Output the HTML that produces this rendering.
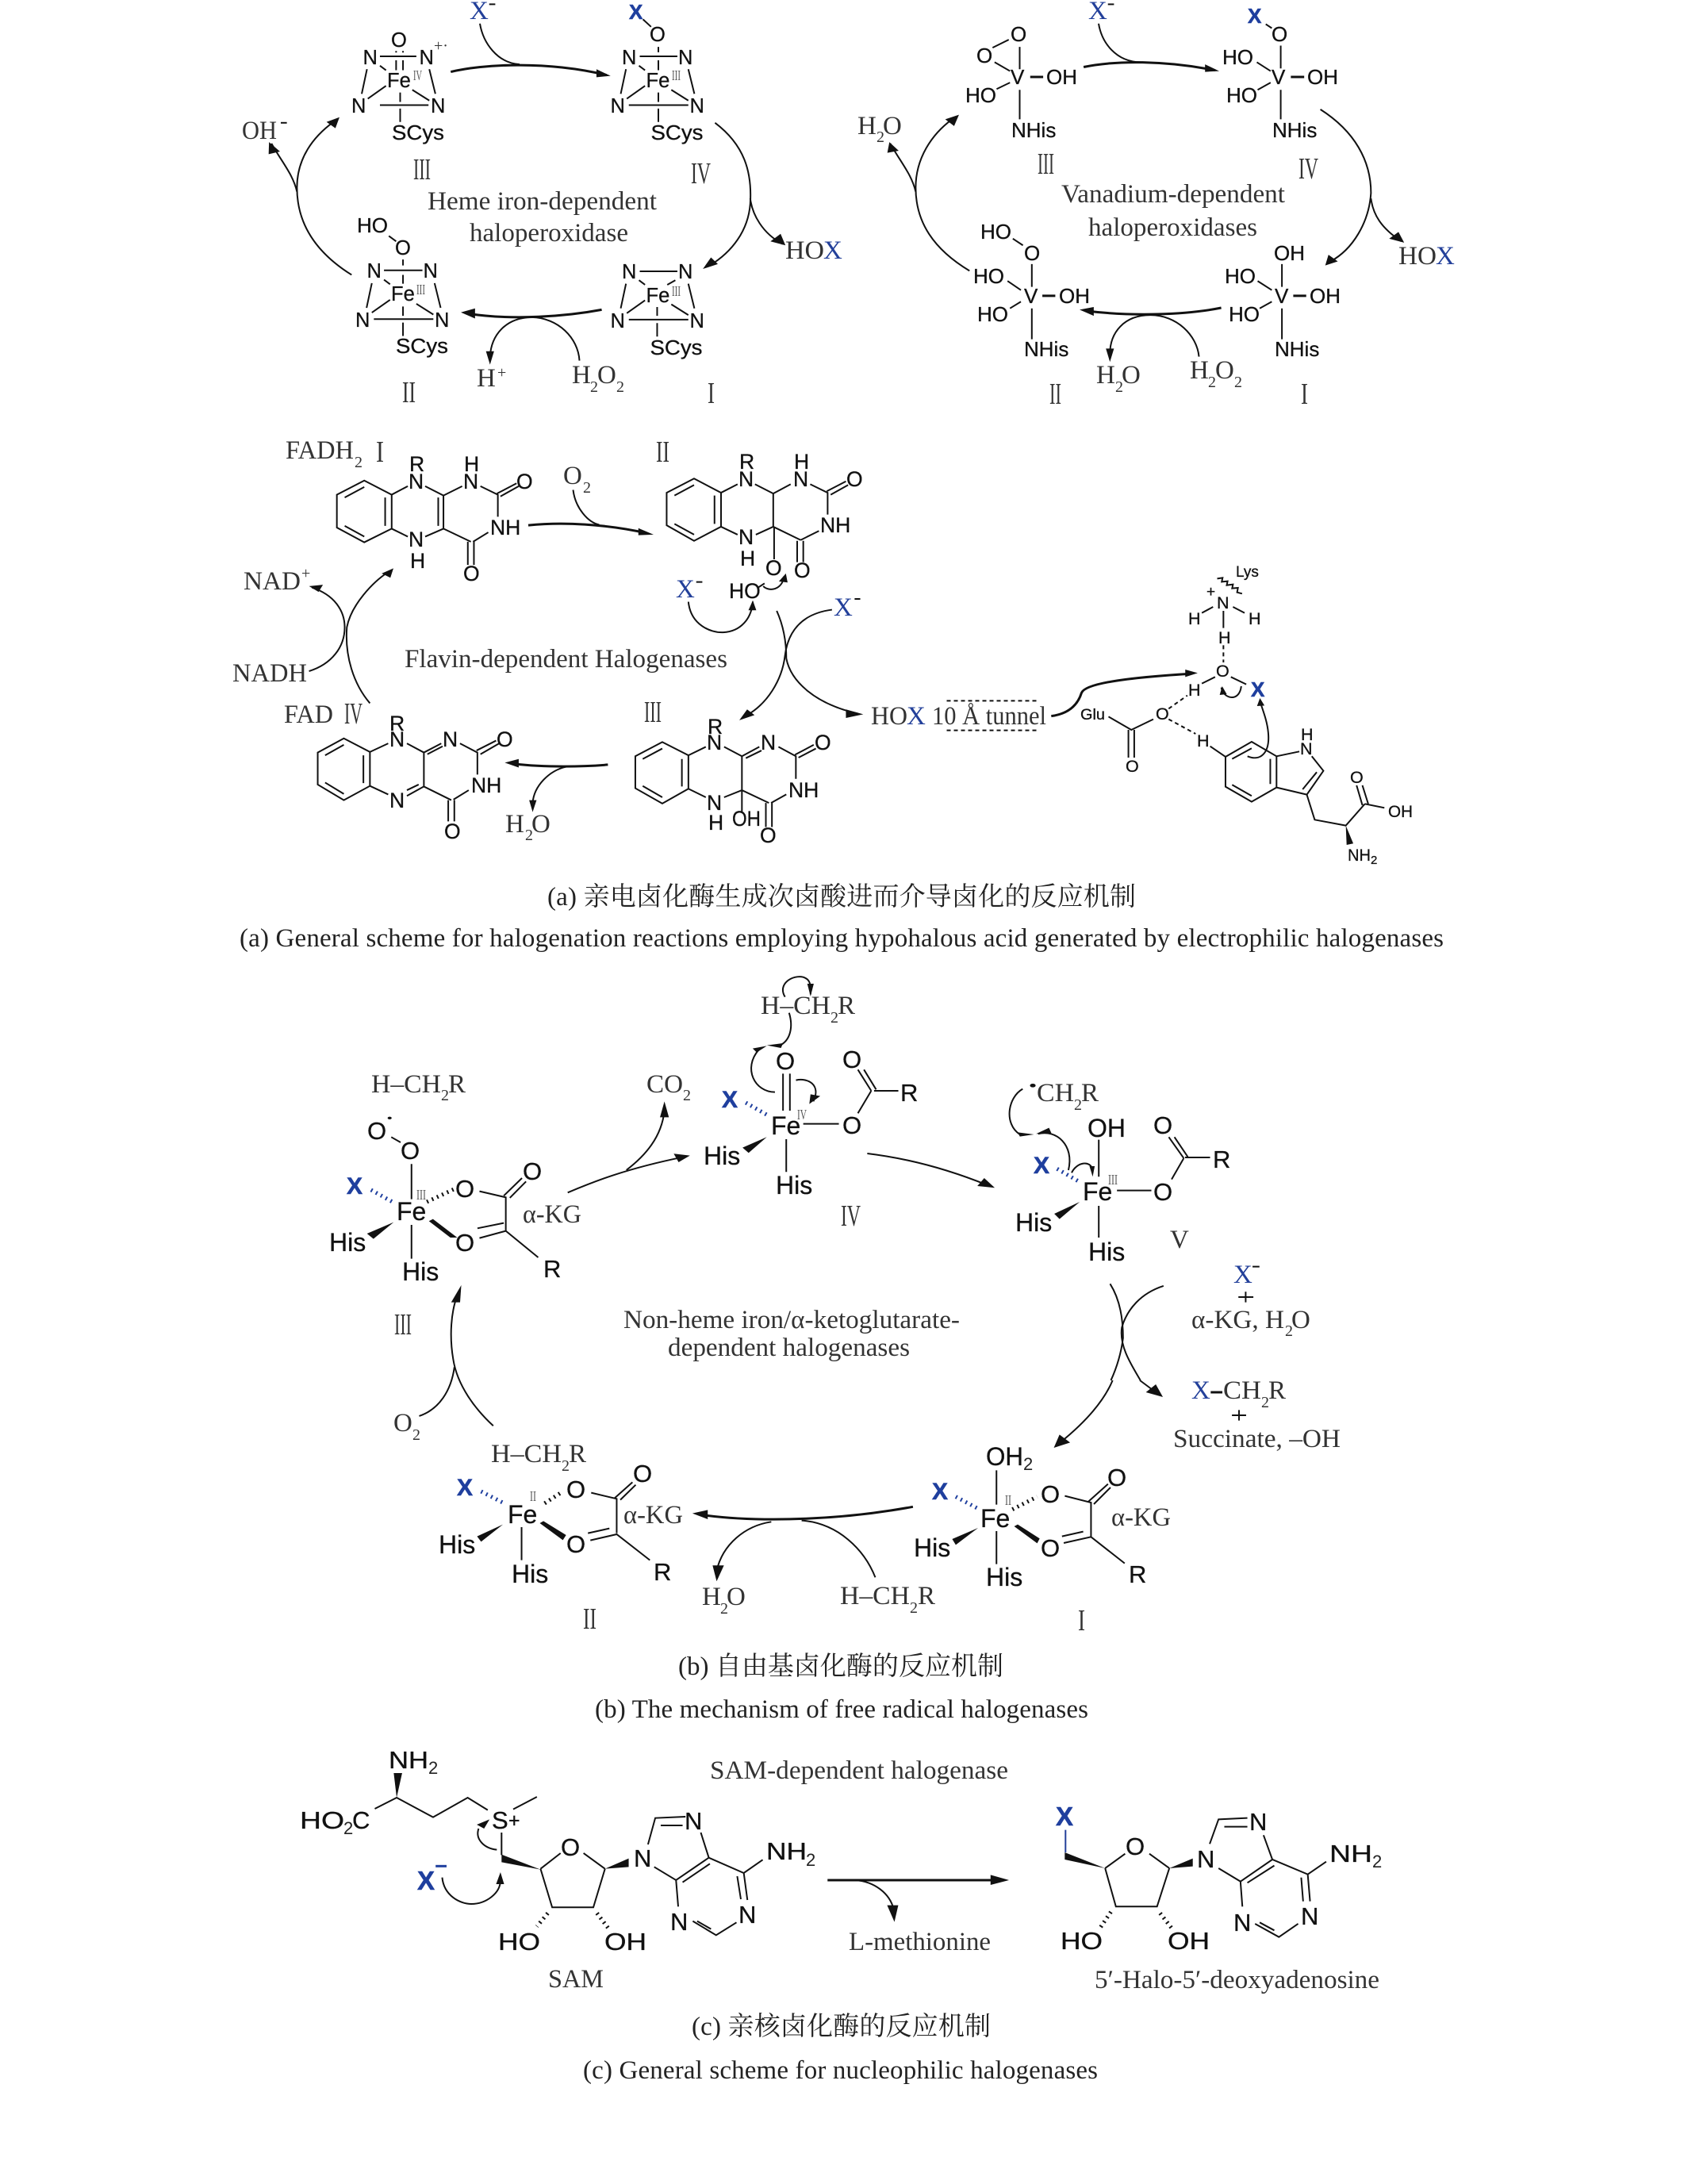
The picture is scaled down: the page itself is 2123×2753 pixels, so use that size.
<!DOCTYPE html>
<html><head><meta charset="utf-8"><style>
html,body{margin:0;padding:0;background:#fff}
svg{display:block}
text{white-space:pre}
.s{font-family:"Liberation Sans",sans-serif;font-size:25.5px;fill:#111;stroke:#111;stroke-width:.3px}
.s2{font-size:26px}.s3{font-size:32px}.s4{font-size:31px}.s5{font-size:21.5px}.s6{font-size:19px}.s7{font-size:26.5px}
.t{font-family:"Liberation Serif",serif;font-size:33px;fill:#333}
.k{font-family:"Liberation Serif",serif;font-size:20px;fill:#333}
.kk{font-family:"Liberation Sans",sans-serif;font-size:22px;fill:#222}
.x{font-family:"Liberation Serif",serif;font-size:33px;fill:#23409a}
.b{font-family:"Liberation Sans",sans-serif;font-weight:bold;font-size:26px;fill:#1f3f9e;stroke:#1f3f9e;stroke-width:.6px}
.b2{font-size:30px}.b3{font-size:33px}
.r{font-family:"Liberation Serif",serif;font-size:38px;fill:#333}
.u{font-family:"Liberation Serif",serif;font-size:18px;fill:#555}
.c{font-family:"Liberation Serif","Noto Serif CJK SC",serif;font-size:33px;fill:#222}
path,line{fill:none;stroke:#111;stroke-width:2;vector-effect:non-scaling-stroke}
path.m{stroke-width:3}
path.d{stroke-dasharray:5 4}
path.bl{stroke:#23409a}
path.h{stroke-width:5;stroke-dasharray:2 5;stroke:#111}
path.hb{stroke-width:5;stroke-dasharray:2 5;stroke:#1f3f9e}
polygon{fill:#111;stroke:none}
</style></head><body>
<svg xmlns="http://www.w3.org/2000/svg" width="2123" height="2753" viewBox="0 0 2123 2753">
<rect width="2123" height="2753" fill="#fff"/>

<!-- PANEL 1 shapes -->
<g transform="translate(280,0) scale(.5102,.338)">
<path d="M390,210H480M390,392H510M358,258L345,350M512,258L527,350M405,320L360,368M470,335L512,375M390,245L405,262M440,345V380M440,405V455"/>
<path d="M430,190V196M447,190V196M430,225V262M447,225V262"/>
<path d="M1032,210H1125M1005,392H1152M998,258L985,350M1152,258L1167,350M1045,320L1000,368M1110,335L1152,375M1030,245L1045,262M1078,175V195M1078,225V262M1078,345V380M1078,405V455M1040,72L1060,100M660,16H675"/>
<path d="M400,1008H495M375,1190H522M370,1056L357,1148M525,1056L540,1148M415,1118L370,1166M480,1133L522,1173M400,1043L415,1060M447,968V990M447,1025V1058M447,1143V1178M447,1203V1253M412,880L430,900"/>
<path d="M1032,1012H1125M1005,1192H1152M998,1058L985,1150M1152,1058L1167,1150M1045,1120L1000,1168M1110,1135L1152,1175M1030,1045L1045,1062M1120,1045L1100,1062M1075,1145V1178M1075,1205V1255"/>
<path d="M145,458H160"/>
<path d="M637,88C645,160 680,235 735,240"/>
<path class="m" d="M565,268C640,240 800,225 950,280"/>
<polygon points="960,283 925,258 925,288"/>
<path d="M1218,458C1290,540 1310,640 1305,760C1300,860 1260,940 1205,990"/>
<polygon points="1188,1003 1208,960 1225,985"/>
<path d="M1305,740C1310,800 1335,870 1385,910"/>
<polygon points="1392,915 1355,900 1380,872"/>
<path class="m" d="M938,1155C850,1180 720,1195 610,1170"/>
<polygon points="590,1165 625,1150 625,1188"/>
<path d="M883,1345C880,1260 830,1185 765,1183C700,1185 665,1250 662,1330"/>
<polygon points="662,1360 652,1310 672,1310"/>
<path d="M320,1025C230,940 185,830 185,700C185,590 225,510 275,455"/>
<polygon points="290,437 258,455 280,478"/>
<path d="M185,715C175,650 150,610 122,535"/>
<polygon points="116,530 115,575 143,565"/>
</g>
<!-- PANEL 1 text -->
<text class="x" x="592" y="24">X</text><text class="b" x="793" y="24">X</text>
<text class="s" x="819" y="52">O</text>
<text class="s" x="493" y="59">O</text><text class="s" x="457.5" y="81">N</text><text class="s" x="528.5" y="81">N</text><text class="k" x="547" y="64" font-size="18">+·</text>
<text class="s" x="488" y="110">Fe</text><text class="u" x="521" y="101" textLength="11" lengthAdjust="spacingAndGlyphs">IV</text>
<text class="s" x="443" y="142">N</text><text class="s" x="543" y="142">N</text><text class="s" x="494" y="176" textLength="66" lengthAdjust="spacingAndGlyphs">SCys</text>
<text class="s" x="784" y="81">N</text><text class="s" x="855" y="81">N</text><text class="s" x="814.5" y="110">Fe</text><text class="u" x="847" y="101" textLength="11" lengthAdjust="spacingAndGlyphs">III</text>
<text class="s" x="769.5" y="142">N</text><text class="s" x="869.5" y="142">N</text><text class="s" x="820.5" y="176" textLength="66" lengthAdjust="spacingAndGlyphs">SCys</text>
<text class="s" x="450" y="293" textLength="39" lengthAdjust="spacingAndGlyphs">HO</text><text class="s" x="498" y="321">O</text>
<text class="s" x="462.5" y="350">N</text><text class="s" x="533.5" y="350">N</text><text class="s" x="493" y="379">Fe</text><text class="u" x="525" y="371" textLength="11" lengthAdjust="spacingAndGlyphs">III</text>
<text class="s" x="448" y="412">N</text><text class="s" x="548" y="412">N</text><text class="s" x="499" y="445" textLength="66" lengthAdjust="spacingAndGlyphs">SCys</text>
<text class="s" x="784" y="351">N</text><text class="s" x="855" y="351">N</text><text class="s" x="814.5" y="381">Fe</text><text class="u" x="847" y="373" textLength="11" lengthAdjust="spacingAndGlyphs">III</text>
<text class="s" x="769.5" y="413">N</text><text class="s" x="869.5" y="413">N</text><text class="s" x="819.5" y="447" textLength="66" lengthAdjust="spacingAndGlyphs">SCys</text>
<text class="r" x="521" y="226" textLength="22" lengthAdjust="spacingAndGlyphs">III</text><text class="r" x="871" y="231" textLength="25" lengthAdjust="spacingAndGlyphs">IV</text>
<text class="r" x="507" y="507" textLength="17" lengthAdjust="spacingAndGlyphs">II</text><text class="r" x="892" y="508" textLength="9" lengthAdjust="spacingAndGlyphs">I</text>
<text class="t" x="305" y="175" textLength="44" lengthAdjust="spacingAndGlyphs">OH</text>
<text class="t" x="539" y="264" textLength="289" lengthAdjust="spacingAndGlyphs">Heme iron-dependent</text>
<text class="t" x="592" y="304" textLength="200" lengthAdjust="spacingAndGlyphs">haloperoxidase</text>
<text class="t" x="990" y="326" textLength="49" lengthAdjust="spacingAndGlyphs">HO</text><text class="x" x="1038" y="326">X</text>
<text class="t" x="601" y="487">H</text><text class="k" x="627" y="476">+</text>
<text class="t" x="721" y="483">H</text><text class="k" x="744" y="494">2</text><text class="t" x="753" y="483">O</text><text class="k" x="777" y="494">2</text>

<!-- PANEL 2 shapes -->
<g transform="translate(1060,0) scale(.5102,.338)">
<path d="M375,178L415,148M442,175V258M380,232L418,265M418,308L385,332M442,335V445"/>
<path class="m" d="M468,287H500"/>
<path d="M1050,90L1065,105M1087,170V255M1028,232L1062,265M1062,308L1030,335M1087,335V445"/>
<path class="m" d="M1112,287H1145"/>
<path d="M425,890L450,915M472,985V1070M412,1048L445,1082M445,1125L418,1150M472,1150V1265"/>
<path class="m" d="M498,1103H530"/>
<path d="M1090,985V1070M1030,1048L1065,1082M1065,1125L1035,1150M1090,1150V1265"/>
<path class="m" d="M1118,1103H1150"/>
<path d="M660,16H675"/>
<path d="M637,88C645,160 680,230 740,232"/>
<path class="m" d="M600,250C680,225 800,225 925,262"/>
<polygon points="935,265 900,240 900,268"/>
<path d="M1185,408C1270,490 1310,600 1310,720C1305,830 1265,930 1210,975"/>
<polygon points="1197,990 1205,950 1228,975"/>
<path d="M1310,740C1315,800 1335,850 1385,900"/>
<polygon points="1392,905 1355,890 1378,865"/>
<path class="m" d="M940,1148C850,1175 720,1180 610,1160"/>
<polygon points="590,1155 625,1145 625,1178"/>
<path d="M885,1330C880,1250 830,1175 765,1175C700,1175 665,1240 665,1320"/>
<polygon points="665,1350 655,1300 675,1300"/>
<path d="M318,1010C230,930 185,830 185,700C185,590 225,500 275,445"/>
<polygon points="292,428 258,445 280,470"/>
<path d="M185,715C175,650 150,610 122,535"/>
<polygon points="120,530 115,570 143,562"/>
</g>
<!-- PANEL 2 text -->
<text class="x" x="1372" y="24">X</text><text class="b" x="1573" y="29">X</text><text class="s s2" x="1603" y="52">O</text>
<text class="s s2" x="1274" y="52">O</text><text class="s s2" x="1231" y="79">O</text><text class="s s2" x="1274" y="106">V</text><text class="s s2" x="1319" y="106">OH</text><text class="s s2" x="1217" y="129">HO</text><text class="s s2" x="1275" y="173">NHis</text>
<text class="s s2" x="1603" y="106">V</text><text class="s s2" x="1648" y="106">OH</text><text class="s s2" x="1541" y="81">HO</text><text class="s s2" x="1546" y="129">HO</text><text class="s s2" x="1604" y="173">NHis</text>
<text class="r" x="1308" y="219" textLength="21" lengthAdjust="spacingAndGlyphs">III</text><text class="r" x="1637" y="225" textLength="25" lengthAdjust="spacingAndGlyphs">IV</text>
<text class="t" x="1338" y="255" textLength="282" lengthAdjust="spacingAndGlyphs">Vanadium-dependent</text>
<text class="t" x="1372" y="297" textLength="213" lengthAdjust="spacingAndGlyphs">haloperoxidases</text>
<text class="t" x="1081" y="169">H</text><text class="k" x="1105" y="179">2</text><text class="t" x="1113" y="169">O</text>
<text class="s s2" x="1236" y="301">HO</text><text class="s s2" x="1291" y="328">O</text><text class="s s2" x="1227" y="357">HO</text><text class="s s2" x="1291" y="382">V</text><text class="s s2" x="1335" y="382">OH</text><text class="s s2" x="1232" y="405">HO</text><text class="s s2" x="1291" y="449">NHis</text>
<text class="s s2" x="1606" y="328">OH</text><text class="s s2" x="1544" y="357">HO</text><text class="s s2" x="1607" y="382">V</text><text class="s s2" x="1651" y="382">OH</text><text class="s s2" x="1549" y="405">HO</text><text class="s s2" x="1607" y="449">NHis</text>
<text class="t" x="1763" y="333" textLength="48" lengthAdjust="spacingAndGlyphs">HO</text><text class="x" x="1810" y="333">X</text>
<text class="t" x="1382" y="483">H</text><text class="k" x="1406" y="494">2</text><text class="t" x="1414" y="483">O</text>
<text class="t" x="1500" y="477">H</text><text class="k" x="1523" y="488">2</text><text class="t" x="1532" y="477">O</text><text class="k" x="1556" y="488">2</text>
<text class="r" x="1323" y="509" textLength="15" lengthAdjust="spacingAndGlyphs">II</text><text class="r" x="1640" y="509" textLength="9" lengthAdjust="spacingAndGlyphs">I</text>

<!-- PANEL 3 flavin shapes -->
<g transform="translate(270,530) scale(.5485,.35714)">
<path d="M345,212L408,262V382L345,430L282,378V262ZM300,272L345,235M393,272V372M300,372L345,410M408,262L445,232M408,382L445,410M485,232L527,265V382L590,428M515,272V372M527,382L485,410M527,265L570,232M612,232L652,262V340M650,258L695,222M658,268L700,232M630,395L595,428M583,428V510M597,428V510"/>
<path d="M1103,205L1165,255V375L1103,425L1040,370V255ZM1058,265L1103,228M1150,265V365M1058,365L1103,403M1165,255L1203,225M1243,225L1285,258L1325,225M1285,258V375M1370,225L1410,255V332M1408,250L1452,215M1417,262L1457,228M1390,390L1348,422M1285,375L1348,422M1165,375L1203,403M1285,375L1245,403M1340,425V500M1354,425V500M1287,375V490M1250,590L1265,575"/>
<path d="M1262,585C1275,605 1305,600 1310,550"/><polygon points="1314,540 1298,568 1318,572"/>
<path d="M1108,570H1122M1472,630H1485"/>
<path d="M1090,640C1095,720 1140,750 1170,748C1210,745 1235,700 1238,640"/>
<polygon points="1238,635 1228,670 1246,670"/>
<path d="M1420,668C1360,680 1320,730 1312,830C1305,920 1270,1000 1225,1040"/>
<polygon points="1207,1058 1225,1020 1242,1040"/>
<path d="M1293,672C1310,730 1315,790 1315,840C1325,920 1380,1000 1480,1035"/>
<polygon points="1492,1037 1452,1020 1452,1050"/>
<path d="M825,245C830,310 860,360 885,368"/>
<path class="m" d="M722,370C800,358 900,365 995,398"/>
<polygon points="1010,403 975,380 975,405"/>
<path d="M218,885C270,860 300,800 300,730C300,670 275,615 225,590"/>
<polygon points="218,585 250,580 240,605"/>
<path d="M358,998C320,930 300,830 305,730C315,650 365,570 400,535"/>
<polygon points="412,522 385,540 405,555"/>
<path d="M298,1122L358,1170V1290L298,1340L238,1285V1172ZM255,1182L298,1145M343,1182V1280M255,1278L298,1318M358,1170L400,1140M358,1290L400,1320M443,1140L482,1172L522,1140M490,1178L525,1150M482,1172V1292M470,1285L443,1305M482,1292L443,1325M482,1292L545,1340M565,1140L605,1172V1250M603,1165L648,1130M612,1178L655,1140M585,1305L550,1338M538,1340V1415M552,1340V1415"/>
<path d="M1030,1135L1090,1182V1300L1030,1352L968,1298V1185ZM985,1195L1030,1158M1075,1195V1292M985,1290L1030,1330M1090,1182L1130,1152M1090,1300L1130,1330M1172,1152L1213,1185L1253,1152M1222,1192L1258,1165M1213,1185V1305M1297,1152L1337,1185V1265M1335,1180L1378,1145M1343,1190L1383,1158M1315,1320L1280,1350M1213,1305L1275,1350M1172,1330L1213,1305M1213,1305V1380M1268,1350V1435M1282,1350V1435"/>
<path class="m" d="M905,1215C850,1222 760,1225 690,1212"/>
<polygon points="668,1208 700,1195 700,1225"/>
<path d="M810,1222C770,1235 735,1290 732,1350"/>
<polygon points="732,1382 724,1340 741,1340"/>
</g>
<!-- PANEL 3 text -->
<text class="t" x="360" y="578" textLength="86" lengthAdjust="spacingAndGlyphs">FADH</text><text class="k" x="447" y="589">2</text><text class="r" x="474" y="582" textLength="10" lengthAdjust="spacingAndGlyphs">I</text>
<text class="r" x="827" y="582" textLength="17" lengthAdjust="spacingAndGlyphs">II</text>
<text class="s s7" x="516" y="594">R</text><text class="s s7" x="515" y="616">N</text><text class="s s7" x="585" y="594">H</text><text class="s s7" x="584" y="616">N</text><text class="s s7" x="651" y="616">O</text><text class="s s7" x="618" y="674">NH</text><text class="s s7" x="515" y="689">N</text><text class="s s7" x="517" y="716">H</text><text class="s s7" x="584" y="732">O</text>
<text class="s s7" x="932" y="591">R</text><text class="s s7" x="931" y="613">N</text><text class="s s7" x="1001" y="591">H</text><text class="s s7" x="1000" y="613">N</text><text class="s s7" x="1067" y="613">O</text><text class="s s7" x="1034" y="671">NH</text><text class="s s7" x="931" y="686">N</text><text class="s s7" x="933" y="713">H</text><text class="s s7" x="1001" y="728">O</text><text class="s s7" x="965" y="725">O</text><text class="s s7" x="919" y="754">HO</text>
<text class="x" x="852" y="753">X</text><text class="x" x="1051" y="776">X</text>
<text class="t" x="710" y="610">O</text><text class="k" x="735" y="621">2</text>
<text class="t" x="307" y="743" textLength="72" lengthAdjust="spacingAndGlyphs">NAD</text><text class="k" x="380" y="729">+</text>
<text class="t" x="293" y="859" textLength="94" lengthAdjust="spacingAndGlyphs">NADH</text>
<text class="t" x="510" y="841" textLength="407" lengthAdjust="spacingAndGlyphs">Flavin-dependent Halogenases</text>
<text class="t" x="358" y="911" textLength="62" lengthAdjust="spacingAndGlyphs">FAD</text><text class="r" x="434" y="912" textLength="23" lengthAdjust="spacingAndGlyphs">IV</text>
<text class="r" x="812" y="910" textLength="22" lengthAdjust="spacingAndGlyphs">III</text>
<text class="s s7" x="491" y="921">R</text><text class="s s7" x="491" y="941">N</text><text class="s s7" x="558" y="941">N</text><text class="s s7" x="626" y="941">O</text><text class="s s7" x="594" y="999">NH</text><text class="s s7" x="491" y="1018">N</text><text class="s s7" x="560" y="1057">O</text>
<text class="s s7" x="892" y="925">R</text><text class="s s7" x="891" y="945">N</text><text class="s s7" x="959" y="945">N</text><text class="s s7" x="1027" y="945">O</text><text class="s s7" x="994" y="1005">NH</text><text class="s s7" x="891" y="1021">N</text><text class="s s7" x="893" y="1046">H</text><text class="s s7" x="923" y="1041" textLength="36" lengthAdjust="spacingAndGlyphs">OH</text><text class="s s7" x="958" y="1062">O</text>
<text class="t" x="637" y="1049">H</text><text class="k" x="662" y="1059">2</text><text class="t" x="670" y="1049">O</text>

<!-- Tunnel/tryptophan -->
<g transform="translate(1000,690) scale(.523,.3333)">
<path class="d" d="M370,580H590M370,692H590"/>
<path class="m" d="M622,638C660,630 685,600 695,550C705,510 830,490 955,478"/>
<polygon points="975,475 945,462 945,490"/>
<path d="M1022,118L1035,115L1033,130L1047,128L1045,143L1060,140L1058,155L1072,153L1070,170L1082,175"/>
<path d="M1060,225L1088,248M1012,225L985,248M1037,240V305M1017,490L985,515M1055,490L1092,518"/>
<path class="d" d="M1037,370V435M905,610L950,560M905,650L970,705"/>
<path d="M1032,530C1035,570 1075,590 1080,525"/><polygon points="1034,525 1028,558 1045,555"/>
<path d="M760,640L815,690L868,650M808,690V795M822,690V795"/>
<path d="M1005,752L1042,792M1105,735L1165,790V908L1105,962L1042,905V792ZM1058,800L1105,760M1150,800V895M1058,898L1105,940M1165,790L1220,772M1250,790L1278,845L1238,935M1262,850L1228,915M1238,935L1165,908M1238,935L1257,1030L1332,1052L1378,970M1358,900L1372,975M1372,900L1386,970M1378,970L1425,985"/>
<polygon points="1332,1052 1334,1125 1350,1120"/>
<path d="M1095,790C1125,810 1150,780 1145,700C1142,650 1130,610 1125,580"/>
<polygon points="1125,570 1118,600 1136,598"/>
</g>
<text class="t" x="1098" y="913" textLength="46" lengthAdjust="spacingAndGlyphs">HO</text><text class="x" x="1143" y="913">X</text>
<text class="t" x="1175" y="913" textLength="144" lengthAdjust="spacingAndGlyphs">10 Å tunnel</text>
<text class="s s6" x="1558" y="727">Lys</text><text class="s s6" x="1521" y="752">+</text>
<text class="s s5" x="1534" y="767">N</text><text class="s s5" x="1498" y="787">H</text><text class="s s5" x="1574" y="787">H</text><text class="s s5" x="1536" y="811">H</text><text class="s s5" x="1533" y="853">O</text><text class="s s5" x="1498" y="877">H</text>
<text class="b" x="1577" y="878">X</text>
<text class="s s6" x="1362" y="907" textLength="31" lengthAdjust="spacingAndGlyphs">Glu</text>
<text class="s s5" x="1457" y="907">O</text><text class="s s5" x="1419" y="973">O</text><text class="s s5" x="1509" y="941">H</text>
<text class="s s5" x="1640" y="933">H</text><text class="s s5" x="1639" y="951">N</text>
<text class="s s5" x="1702" y="987">O</text><text class="s s5" x="1750" y="1030" textLength="31" lengthAdjust="spacingAndGlyphs">OH</text>
<text class="s s5" x="1699" y="1085" textLength="29" lengthAdjust="spacingAndGlyphs">NH</text><text class="s" style="font-size:15px" x="1728" y="1089">2</text>

<!-- captions a -->
<text class="c" x="690" y="1141" textLength="742">(a) 亲电卤化酶生成次卤酸进而介导卤化的反应机制</text>
<text class="c" x="302" y="1193" textLength="1518">(a) General scheme for halogenation reactions employing hypohalous acid generated by electrophilic halogenases</text>

<!-- PANEL b: Z5 -->
<g transform="translate(380,1220) scale(.5102,.3333)">
<circle cx="218" cy="568" r="5" fill="#111" style="vector-effect:none"/>
<path d="M222,640L245,660M272,742V875M440,845L505,868V995M500,862L545,795M515,870L555,808M435,985L500,965M440,1022L505,995L585,1095M272,972V1100"/>
<path class="hb" d="M172,840L225,885"/><path class="h" d="M310,885L380,835"/>
<polygon points="315,958 325,950 385,1020 368,1020"/>
<polygon points="228,962 162,1005 178,1025"/>
<path d="M658,850C720,810 800,760 945,715"/><polygon points="960,710 920,703 932,735"/>
<path d="M803,765C850,710 890,640 897,540"/><polygon points="897,505 886,565 908,565"/>
<path d="M474,1732C430,1670 385,1580 375,1480C365,1390 370,1300 385,1240"/>
<polygon points="395,1200 370,1265 392,1265"/>
<path d="M291,1695C340,1670 370,1600 378,1510"/>
<path d="M1190,400V540M1207,400V540M1375,385L1408,465M1390,385L1420,460M1415,465H1475M1408,465L1375,550M1240,590H1328M1198,648V772"/>
<path class="hb" d="M1098,510L1155,560"/>
<polygon points="1150,640 1090,680 1105,700"/>
<path d="M1195,110C1175,60 1215,25 1240,35C1260,45 1258,70 1258,100"/><polygon points="1258,108 1250,60 1266,60"/>
<path d="M1205,170C1215,220 1210,275 1180,295"/><polygon points="1150,293 1190,285 1185,303"/>
<path d="M1170,470C1120,470 1090,380 1130,310"/><polygon points="1150,295 1115,305 1125,320"/>
<path d="M1222,425C1250,415 1285,440 1265,505"/><polygon points="1255,515 1258,478 1282,485"/>
</g>
<!-- Z6 -->
<g transform="translate(1000,1220) scale(.5102,.3333)">
<path d="M183,702C280,720 380,760 480,822"/><polygon points="498,832 455,825 472,795"/>
<path d="M755,650V790M800,842H885M935,800L965,720M928,640L965,720M942,640L975,715M968,717H1030M755,900V1020"/>
<path class="hb" d="M652,760L708,810"/>
<polygon points="708,885 645,930 658,950"/>
<circle cx="592" cy="445" r="7" fill="#111" style="vector-effect:none"/>
<path d="M567,458C530,490 520,590 560,630"/><polygon points="595,630 555,622 560,638"/>
<path d="M605,628C650,610 695,670 680,765"/><polygon points="600,628 632,605 638,625"/>
<path d="M688,775C700,735 735,725 740,765"/><polygon points="740,790 732,750 745,750"/>
<path d="M1135,1130H1152M1118,1225V1265M1100,1245H1137"/>
<path d="M783,1195C810,1260 815,1340 815,1400C810,1460 800,1510 785,1560"/>
<path d="M915,1203C860,1230 825,1290 812,1360C805,1430 835,1500 858,1560"/>
</g>
<!-- Z8 -->
<g transform="translate(1100,1740) scale(.4464,.3333)">
<path d="M678,0C650,90 590,170 530,235"/><polygon points="512,255 528,205 558,235"/>
<path d="M755,0L800,45"/><polygon points="820,63 772,45 800,15"/>
<path class="m" d="M955,45H988"/>
<path d="M1035,112V152M1015,132H1055"/>
<path d="M350,340V470M543,437L617,462V590M610,458L665,392M625,468L672,405M535,590L595,572M540,615L617,592L712,692M350,570V695"/>
<path class="hb" d="M235,440L298,485"/><path class="h" d="M395,488L465,440"/>
<polygon points="400,552 410,545 472,598 465,616"/>
<polygon points="298,558 225,600 235,622"/>
</g>
<!-- Z7 -->
<g transform="translate(480,1740) scale(.5102,.3333)">
<path class="m" d="M1315,478C1150,525 950,540 800,510"/><polygon points="770,503 808,490 808,525"/>
<path d="M1222,745C1195,640 1130,540 1040,530"/>
<path d="M965,535C900,550 845,620 830,720"/><polygon points="830,760 820,700 848,700"/>
<path d="M520,425L583,448V578M578,445L622,385M592,452L630,395M512,578L565,560M518,605L583,582L665,680M348,555V680"/>
<path class="hb" d="M248,420L305,465"/><path class="h" d="M405,465L450,420"/>
<polygon points="393,540 402,532 458,585 450,604"/>
<polygon points="302,545 238,590 248,610"/>
</g>
<!-- b text -->
<text class="t" x="468" y="1377" textLength="88" lengthAdjust="spacingAndGlyphs">H–CH</text><text class="k" x="556" y="1387">2</text><text class="t" x="565" y="1377">R</text>
<text class="t" x="815" y="1377" textLength="46" lengthAdjust="spacingAndGlyphs">CO</text><text class="k" x="861" y="1387">2</text>
<text class="t" x="959" y="1278" textLength="88" lengthAdjust="spacingAndGlyphs">H–CH</text><text class="k" x="1047" y="1289">2</text><text class="t" x="1056" y="1278">R</text>
<text class="t" x="659" y="1541" textLength="74" lengthAdjust="spacingAndGlyphs">α-KG</text>
<text class="r" x="1060" y="1545" textLength="25" lengthAdjust="spacingAndGlyphs">IV</text>
<text class="r" x="497" y="1682" textLength="22" lengthAdjust="spacingAndGlyphs">III</text>
<text class="t" x="786" y="1674" textLength="424" lengthAdjust="spacingAndGlyphs">Non-heme iron/α-ketoglutarate-</text>
<text class="t" x="842" y="1709" textLength="305" lengthAdjust="spacingAndGlyphs">dependent halogenases</text>
<text class="s s4" x="463" y="1436">O</text><text class="s s4" x="505" y="1461">O</text><text class="b b2" x="437" y="1505">X</text>
<text class="s s3" x="500" y="1538">Fe</text><text class="u" x="525" y="1512" textLength="12" lengthAdjust="spacingAndGlyphs">III</text>
<text class="s s4" x="574" y="1509">O</text><text class="s s4" x="574" y="1577">O</text><text class="s s4" x="659" y="1487">O</text>
<text class="s s3" x="415" y="1577">His</text><text class="s s3" x="507" y="1614">His</text><text class="s s4" x="685" y="1610">R</text>
<text class="s s4" x="978" y="1348">O</text><text class="s s4" x="1062" y="1346">O</text><text class="s s4" x="1135" y="1388">R</text><text class="s s4" x="1062" y="1429">O</text>
<text class="s s3" x="972" y="1430">Fe</text><text class="u" x="1005" y="1411" textLength="12" lengthAdjust="spacingAndGlyphs">IV</text><text class="b b2" x="910" y="1396">X</text>
<text class="s s3" x="887" y="1468">His</text><text class="s s3" x="978" y="1505">His</text>
<text class="t" x="1307" y="1388" textLength="47" lengthAdjust="spacingAndGlyphs">CH</text><text class="k" x="1354" y="1399">2</text><text class="t" x="1363" y="1388">R</text>
<text class="s s3" x="1371" y="1433">OH</text><text class="s s3" x="1365" y="1513">Fe</text><text class="u" x="1397" y="1493" textLength="12" lengthAdjust="spacingAndGlyphs">III</text>
<text class="s s4" x="1454" y="1513">O</text><text class="s s4" x="1454" y="1429">O</text><text class="s s4" x="1529" y="1472">R</text><text class="b b2" x="1303" y="1479">X</text>
<text class="s s3" x="1280" y="1552">His</text><text class="s s3" x="1372" y="1589">His</text>
<text class="t" x="1475" y="1573">V</text>
<text class="x" x="1555" y="1617">X</text>
<text class="t" x="1502" y="1674" textLength="117" lengthAdjust="spacingAndGlyphs">α-KG, H</text><text class="k" x="1620" y="1684">2</text><text class="t" x="1628" y="1674">O</text>
<text class="x" x="1502" y="1763">X</text><text class="t" x="1542" y="1763" textLength="48" lengthAdjust="spacingAndGlyphs">CH</text><text class="k" x="1590" y="1774">2</text><text class="t" x="1599" y="1763">R</text>
<text class="t" x="1479" y="1824" textLength="211" lengthAdjust="spacingAndGlyphs">Succinate, –OH</text>
<text class="s s3" x="1243" y="1847" textLength="47" lengthAdjust="spacingAndGlyphs">OH</text><text class="kk" x="1290" y="1853">2</text>
<text class="b b2" x="1175" y="1890">X</text><text class="s s3" x="1236" y="1925">Fe</text><text class="u" x="1267" y="1897" textLength="8" lengthAdjust="spacingAndGlyphs">II</text>
<text class="s s4" x="1312" y="1894">O</text><text class="s s4" x="1396" y="1873">O</text><text class="t" x="1401" y="1923" textLength="75" lengthAdjust="spacingAndGlyphs">α-KG</text>
<text class="s s4" x="1312" y="1962">O</text><text class="s s4" x="1423" y="1995">R</text><text class="s s3" x="1152" y="1962">His</text><text class="s s3" x="1243" y="1999">His</text>
<text class="r" x="1359" y="2055" textLength="9" lengthAdjust="spacingAndGlyphs">I</text>
<text class="t" x="496" y="1804">O</text><text class="k" x="520" y="1815">2</text>
<text class="t" x="619" y="1843" textLength="89" lengthAdjust="spacingAndGlyphs">H–CH</text><text class="k" x="708" y="1854">2</text><text class="t" x="717" y="1843">R</text>
<text class="b b2" x="576" y="1885">X</text><text class="s s3" x="640" y="1920">Fe</text><text class="u" x="668" y="1892" textLength="8" lengthAdjust="spacingAndGlyphs">II</text>
<text class="s s4" x="714" y="1888">O</text><text class="s s4" x="798" y="1868">O</text><text class="t" x="786" y="1920" textLength="75" lengthAdjust="spacingAndGlyphs">α-KG</text>
<text class="s s4" x="714" y="1957">O</text><text class="s s4" x="824" y="1992">R</text><text class="s s3" x="553" y="1958">His</text><text class="s s3" x="645" y="1995">His</text>
<text class="r" x="735" y="2053" textLength="17" lengthAdjust="spacingAndGlyphs">II</text>
<text class="t" x="885" y="2023">H</text><text class="k" x="908" y="2034">2</text><text class="t" x="916" y="2023">O</text>
<text class="t" x="1059" y="2022" textLength="88" lengthAdjust="spacingAndGlyphs">H–CH</text><text class="k" x="1147" y="2033">2</text><text class="t" x="1157" y="2022">R</text>

<text class="c" x="855" y="2111" textLength="410">(b) 自由基卤化酶的反应机制</text>
<text class="c" x="750" y="2165" textLength="622">(b) The mechanism of free radical halogenases</text>

<!-- SAM Z9 -->
<g transform="translate(360,2190) scale(.4592,.3333)">
<path d="M245,270L305,228L405,302L500,228L555,275M625,272L690,225M593,360V445"/>
<polygon points="305,228 297,135 320,135"/>
<polygon points="593,443 593,472 700,500"/>
<path d="M700,497L755,438M818,438L877,497M700,497L732,643H845L877,497"/>
<polygon points="877,497 942,458 942,490"/>
<path class="h" d="M720,665L690,715M855,665L885,720"/>
<path d="M1012,490L1072,540L1162,455L1140,360M1090,548L1165,478M1098,300L1015,305L995,405M1090,333L1030,333M1162,455L1258,513L1310,463M1258,513L1268,615M1240,525L1250,612M1238,700L1182,748L1118,695M1168,725L1130,695M1072,540L1078,640"/>
<path d="M580,425C545,420 520,385 530,345"/><polygon points="560,310 525,330 545,345"/>
<path d="M430,530C435,600 480,630 510,630C550,630 590,590 590,540"/><polygon points="590,510 578,555 600,555"/>
<path class="m" style="stroke:#1f3f9e" d="M412,487H442"/>
</g>
<!-- Z10 -->
<g transform="translate(1020,2190) scale(.4847,.3333)">
<path class="m" d="M48,540H480"/><polygon points="520,540 472,520 472,558"/>
<path d="M120,540C170,545 210,590 220,650"/><polygon points="222,698 203,635 232,635"/>
<path class="bl" d="M667,350V435"/>
<polygon points="665,435 665,462 770,495"/>
<path d="M770,495L822,440M885,440L937,495M770,495L798,640H905L937,495"/>
<polygon points="937,495 998,458 998,488"/>
<path d="M1042,403L1065,310L1140,305M1080,338H1140M1065,495L1122,545L1205,462L1182,370M1140,550L1210,485M1205,462L1297,518L1345,470M1297,518L1303,620M1280,530L1285,620M1272,705L1222,755L1160,705M1210,730L1172,700M1122,545L1127,640"/>
<path class="h" d="M785,660L755,725M913,665L945,725"/>
</g>
<text class="s s4" x="490" y="2229" textLength="50" lengthAdjust="spacingAndGlyphs">NH</text><text class="kk" x="540" y="2236">2</text>
<text class="s s4" x="378" y="2305" textLength="56" lengthAdjust="spacingAndGlyphs">HO</text><text class="kk" x="433" y="2312">2</text><text class="s s4" x="444" y="2305">C</text>
<text class="s s4" x="620" y="2305">S</text><text class="s" style="font-size:25px" x="641" y="2303">+</text>
<text class="s s4" x="707" y="2339">O</text><text class="s s4" x="799" y="2353">N</text><text class="s s4" x="863" y="2306">N</text>
<text class="s s4" x="966" y="2344" textLength="51" lengthAdjust="spacingAndGlyphs">NH</text><text class="kk" x="1016" y="2352">2</text>
<text class="s s4" x="931" y="2424">N</text><text class="s s4" x="845" y="2433">N</text>
<text class="s s4" x="628" y="2458" textLength="53" lengthAdjust="spacingAndGlyphs">HO</text><text class="s s4" x="762" y="2458" textLength="53" lengthAdjust="spacingAndGlyphs">OH</text>
<text class="b b3" x="526" y="2382">X</text>
<text class="t" x="691" y="2505" textLength="70" lengthAdjust="spacingAndGlyphs">SAM</text>
<text class="t" x="895" y="2242" textLength="376" lengthAdjust="spacingAndGlyphs">SAM-dependent halogenase</text>
<text class="t" x="1070" y="2458" textLength="179" lengthAdjust="spacingAndGlyphs">L-methionine</text>
<text class="b b3" x="1331" y="2301">X</text><text class="s s4" x="1419" y="2338">O</text>
<text class="s s4" x="1509" y="2354">N</text><text class="s s4" x="1575" y="2307">N</text>
<text class="s s4" x="1676" y="2347" textLength="54" lengthAdjust="spacingAndGlyphs">NH</text><text class="kk" x="1730" y="2354">2</text>
<text class="s s4" x="1640" y="2426">N</text><text class="s s4" x="1555" y="2434">N</text>
<text class="s s4" x="1337" y="2457" textLength="53" lengthAdjust="spacingAndGlyphs">HO</text><text class="s s4" x="1472" y="2457" textLength="53" lengthAdjust="spacingAndGlyphs">OH</text>
<text class="t" x="1380" y="2506" textLength="359" lengthAdjust="spacingAndGlyphs">5′-Halo-5′-deoxyadenosine</text>

<text class="c" x="872" y="2565" textLength="377">(c) 亲核卤化酶的反应机制</text>
<text class="c" x="735" y="2620" textLength="649">(c) General scheme for nucleophilic halogenases</text>
</svg>
</body></html>
